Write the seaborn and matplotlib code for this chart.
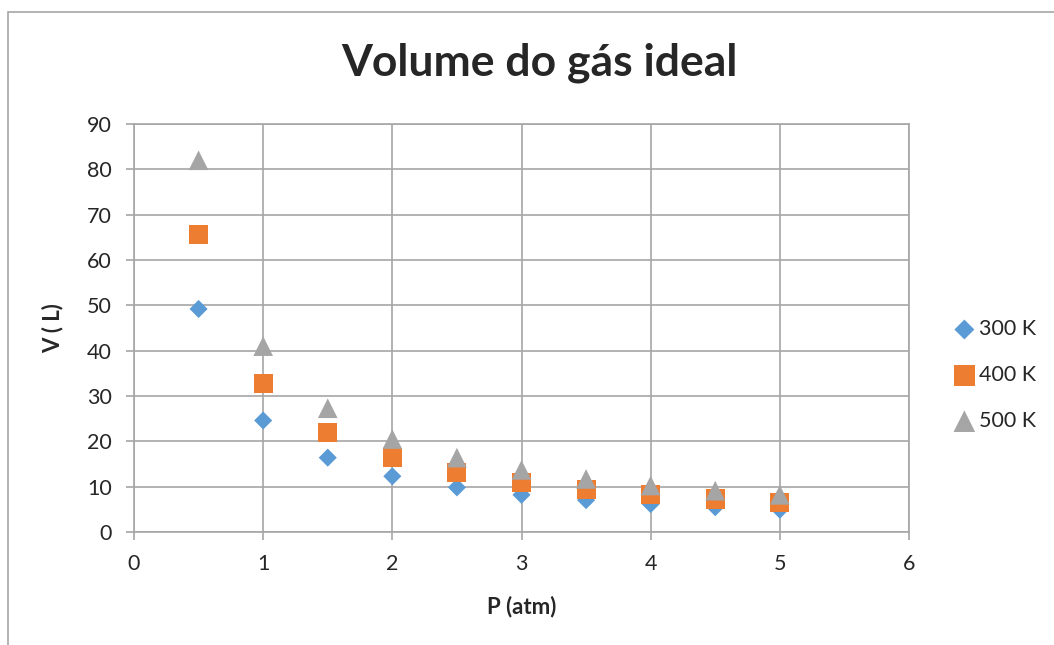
import matplotlib
matplotlib.use("Agg")
import matplotlib.pyplot as plt
import seaborn as sns
import pandas as pd
from matplotlib.patches import Rectangle

P = [0.5, 1.0, 1.5, 2.0, 2.5, 3.0, 3.5, 4.0, 4.5, 5.0]
V_300 = [49.2, 24.6, 16.4, 12.3, 9.84, 8.2, 7.03, 6.15, 5.47, 4.92]
V_400 = [65.6, 32.8, 21.9, 16.4, 13.1, 10.9, 9.37, 8.2, 7.29, 6.56]
V_500 = [82.0, 41.0, 27.3, 20.5, 16.4, 13.7, 11.7, 10.25, 9.11, 8.2]
series_names = ["300 K", "400 K", "500 K"]
x_ticks = [0, 1, 2, 3, 4, 5, 6]
y_ticks = [0, 10, 20, 30, 40, 50, 60, 70, 80, 90]

sns.set_theme(style="white")
plt.rcParams['font.family'] = ['Lato', 'DejaVu Sans']

fig = plt.figure(figsize=(10.54, 6.45), dpi=100)
ax = fig.add_axes([134/1054, 1-532/645, (909-134)/1054, (532-124)/645])

colors = ["#5B9BD5", "#ED7D31", "#A5A5A5"]
markers = ["D", "s", "^"]
sizes = [85, 190, 200]
for vals, name, c, m, s in zip([V_300, V_400, V_500], series_names, colors, markers, sizes):
    df = pd.DataFrame({"P": P, "V": vals})
    sns.scatterplot(data=df, x="P", y="V", ax=ax, color=c, marker=m, s=s,
                    edgecolor="none", linewidth=0, label=name, zorder=3)

ax.set_xlim(0, 6)
ax.set_ylim(0, 90)
ax.set_xticks(x_ticks)
ax.set_yticks(y_ticks)
ax.grid(True, color="#a6a6a6", linewidth=1.2)
ax.set_axisbelow(True)
for sp in ax.spines.values():
    sp.set_color("#a6a6a6")
    sp.set_linewidth(1.2)
ax.tick_params(axis="both", which="major", length=6, width=1.2, color="#a6a6a6",
               labelsize=15.5, pad=10, direction="out", bottom=True, left=True)
ax.set_xlabel("P (atm)", fontsize=16, fontweight="bold")
ax.set_ylabel("V ( L)", fontsize=16, fontweight="bold")
ax.xaxis.set_label_coords(0.5, (532-596)/408)
ax.yaxis.set_label_coords((63-134)/775, 0.5)
fig.text(539/1054, 1-63/645, "Volume do gás ideal", ha="center", va="center",
         fontsize=32, fontweight="bold")

leg = ax.legend(loc="center left", bbox_to_anchor=(945/1054, 1-375/645),
                bbox_transform=fig.transFigure, frameon=False, fontsize=15.5,
                handletextpad=0.2, labelspacing=1.2, handlelength=1.0,
                borderaxespad=0, markerscale=1.1)

fig.patches.append(Rectangle((8/1054, -0.1), 1.2, 1.1-12/645, transform=fig.transFigure,
                             fill=False, edgecolor="#a6a6a6", linewidth=1.2))

fig.savefig("out.png", dpi=100)
